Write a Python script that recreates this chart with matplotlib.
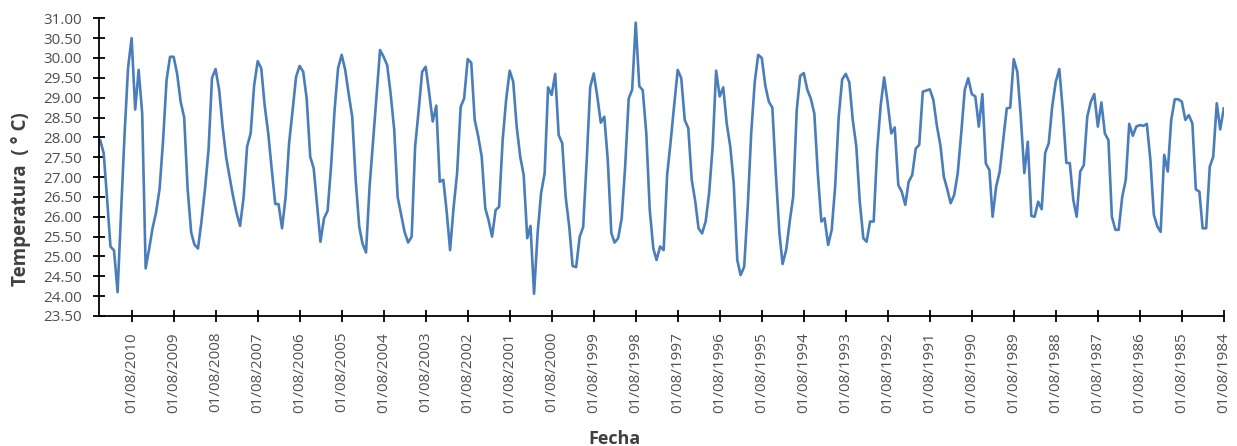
import pandas as pd
import matplotlib
matplotlib.use("Agg")
import matplotlib.pyplot as plt
from matplotlib.ticker import FormatStrFormatter, MultipleLocator

plt.rcParams['font.family'] = ['Open Sans', 'DejaVu Sans']

# Monthly mean temperature, newest month first (May 2011 back to Aug 1984)
temperatura = [
    27.93, 27.60, 26.40, 25.25, 25.15, 24.10, 26.10, 28.10, 29.75, 30.50, 28.70, 29.70,
    28.60, 24.70, 25.20, 25.70, 26.10, 26.70, 27.90, 29.45, 30.03, 30.03, 29.60, 28.90,
    28.50, 26.70, 25.60, 25.30, 25.20, 25.90, 26.70, 27.70, 29.50, 29.72, 29.20, 28.27,
    27.50, 27.00, 26.50, 26.10, 25.77, 26.50, 27.77, 28.10, 29.30, 29.92, 29.74, 28.80,
    28.10, 27.20, 26.32, 26.32, 25.71, 26.50, 27.85, 28.69, 29.53, 29.80, 29.65, 28.98,
    27.51, 27.22, 26.25, 25.37, 25.96, 26.15, 27.26, 28.70, 29.74, 30.08, 29.70, 29.10,
    28.52, 26.93, 25.75, 25.33, 25.10, 26.76, 27.90, 29.10, 30.20, 30.03, 29.82, 29.10,
    28.20, 26.50, 26.05, 25.62, 25.35, 25.50, 27.77, 28.69, 29.65, 29.78, 29.10, 28.40,
    28.80, 26.88, 26.93, 26.17, 25.16, 26.25, 27.10, 28.77, 28.98, 29.97, 29.88, 28.44,
    28.02, 27.51, 26.21, 25.92, 25.50, 26.17, 26.25, 27.93, 28.94, 29.68, 29.40, 28.27,
    27.51, 27.05, 25.46, 25.77, 24.06, 25.59, 26.59, 27.10, 29.26, 29.07, 29.60, 28.06,
    27.85, 26.50, 25.75, 24.76, 24.73, 25.50, 25.74, 27.43, 29.26, 29.61, 29.03, 28.37,
    28.52, 27.43, 25.59, 25.35, 25.46, 25.96, 27.26, 28.98, 29.20, 30.89, 29.29, 29.19,
    28.10, 26.17, 25.20, 24.91, 25.25, 25.16, 27.05, 27.90, 28.80, 29.70, 29.49, 28.44,
    28.23, 26.93, 26.38, 25.71, 25.58, 25.88, 26.59, 27.77, 29.68, 29.03, 29.26, 28.35,
    27.77, 26.85, 24.91, 24.53, 24.74, 26.25, 28.10, 29.40, 30.08, 30.00, 29.30, 28.90,
    28.75, 27.10, 25.60, 24.81, 25.16, 25.88, 26.50, 28.69, 29.55, 29.62, 29.20, 28.98,
    28.60, 27.10, 25.88, 25.96, 25.29, 25.67, 26.76, 28.52, 29.46, 29.60, 29.39, 28.44,
    27.77, 26.38, 25.46, 25.37, 25.88, 25.88, 27.68, 28.81, 29.51, 28.86, 28.10, 28.25,
    26.80, 26.63, 26.30, 26.88, 27.05, 27.72, 27.81, 29.15, 29.18, 29.21, 28.94, 28.30,
    27.80, 27.01, 26.68, 26.34, 26.55, 27.10, 28.10, 29.20, 29.49, 29.09, 29.03, 28.27,
    29.09, 27.34, 27.18, 26.00, 26.76, 27.14, 27.93, 28.73, 28.75, 29.97, 29.65, 28.52,
    27.10, 27.89, 26.02, 26.00, 26.38, 26.19, 27.61, 27.85, 28.77, 29.40, 29.72, 28.69,
    27.36, 27.35, 26.42, 26.00, 27.14, 27.30, 28.52, 28.90, 29.09, 28.27, 28.88, 28.10,
    27.93, 26.00, 25.67, 25.67, 26.50, 26.93, 28.34, 28.04, 28.27, 28.31, 28.29, 28.34,
    27.43, 26.05, 25.75, 25.62, 27.56, 27.14, 28.44, 28.96, 28.96, 28.90, 28.44, 28.56,
    28.35, 26.69, 26.63, 25.71, 25.71, 27.26, 27.51, 28.86, 28.20, 28.73,
]
fechas = pd.date_range(end="2011-05-01", periods=len(temperatura), freq="MS")[::-1]

# one labelled tick per year, every 1st of August
ticks_fecha = pd.date_range("1984-08-01", "2010-08-01", freq="12MS")
ticks_texto = [d.strftime("%d/%m/%Y") for d in ticks_fecha]

fig = plt.figure(figsize=(12.37, 4.46), dpi=100)
ax = fig.add_axes([0.080, 0.2915, 0.9095, 0.6675])

ax.plot(fechas, temperatura, color="#4a7ebb", linewidth=1.9)

# newest dates on the left
ax.set_xlim(pd.Timestamp("2011-05-12"), pd.Timestamp("1984-07-30"))
ax.set_ylim(23.5, 31.0)
ax.yaxis.set_major_locator(MultipleLocator(0.5))
ax.yaxis.set_major_formatter(FormatStrFormatter("%.2f"))
ax.set_xticks(ticks_fecha)
ax.set_xticklabels(ticks_texto, rotation=90)

for side in ("top", "right"):
    ax.spines[side].set_visible(False)
for side in ("left", "bottom"):
    ax.spines[side].set_linewidth(1.3)
    ax.spines[side].set_color("black")

ax.tick_params(axis="both", direction="inout", length=9, width=1.3,
               labelsize=11, labelcolor="#505050")
ax.tick_params(axis="x", pad=7)
ax.tick_params(axis="y", pad=8)

ax.set_ylabel("Temperatura  ( ° C)", fontsize=13.5, fontweight="bold",
              color="#404040", va="baseline")
ax.yaxis.set_label_coords(-0.0649, 0.393)
ax.set_xlabel("Fecha", fontsize=13, fontweight="bold", color="#404040",
              va="baseline")
ax.xaxis.set_label_coords(0.4585, -0.430)

fig.savefig("out.png", dpi=100)
